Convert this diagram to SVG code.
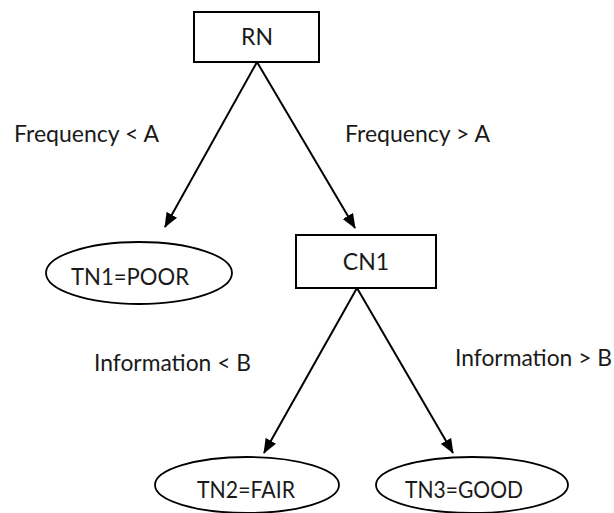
<svg xmlns="http://www.w3.org/2000/svg" width="614" height="513" viewBox="0 0 614 513">
  <style>
    .box { fill: #ffffff; stroke: #000000; stroke-width: 2; }
    .leaf { fill: #ffffff; stroke: #000000; stroke-width: 1.8; }
    .edge { stroke: #000000; stroke-width: 2; fill: none; marker-end: url(#arrow); }
    .lbl { font-family: Lato, "Open Sans", "Liberation Sans", sans-serif; font-size: 23px; fill: #1a1a1a; }
    .mid { text-anchor: middle; }
  </style>
  <defs>
    <marker id="arrow" viewBox="0 0 15 12" refX="14" refY="6" markerWidth="15" markerHeight="12" markerUnits="userSpaceOnUse" orient="auto">
      <path d="M0,0 L15,6 L0,12 Z" fill="#000000"/>
    </marker>
  </defs>

  <!-- branches -->
  <g id="connectors">
    <line class="edge" x1="257" y1="62" x2="165" y2="227"/>
    <line class="edge" x1="257" y1="62" x2="355" y2="228"/>
    <line class="edge" x1="357" y1="288" x2="264" y2="453"/>
    <line class="edge" x1="357" y1="288" x2="453" y2="453"/>
  </g>

  <!-- branch conditions -->
  <g id="conditions">
    <text class="lbl" x="14" y="142" textLength="145" lengthAdjust="spacingAndGlyphs">Frequency &lt; A</text>
    <text class="lbl" x="345" y="142" textLength="145" lengthAdjust="spacingAndGlyphs">Frequency &gt; A</text>
    <text class="lbl" x="94" y="371" textLength="157" lengthAdjust="spacingAndGlyphs">Information &lt; B</text>
    <text class="lbl" x="455" y="366" textLength="157" lengthAdjust="spacingAndGlyphs">Information &gt; B</text>
  </g>

  <g id="RN">
    <rect class="box" x="194" y="12" width="125" height="50"/>
    <text class="lbl mid" x="257" y="45">RN</text>
  </g>

  <g id="TN1">
    <ellipse class="leaf" cx="139" cy="273" rx="93" ry="31"/>
    <text class="lbl mid" x="130" y="285" textLength="118" lengthAdjust="spacingAndGlyphs">TN1=POOR</text>
  </g>

  <g id="CN1">
    <rect class="box" x="296" y="235" width="140" height="53"/>
    <text class="lbl mid" x="366" y="270">CN1</text>
  </g>

  <g id="TN2">
    <ellipse class="leaf" cx="247" cy="485" rx="92" ry="28"/>
    <text class="lbl mid" x="246" y="498" textLength="98" lengthAdjust="spacingAndGlyphs">TN2=FAIR</text>
  </g>

  <g id="TN3">
    <ellipse class="leaf" cx="472" cy="485" rx="96" ry="28"/>
    <text class="lbl mid" x="464" y="498" textLength="118" lengthAdjust="spacingAndGlyphs">TN3=GOOD</text>
  </g>
</svg>
